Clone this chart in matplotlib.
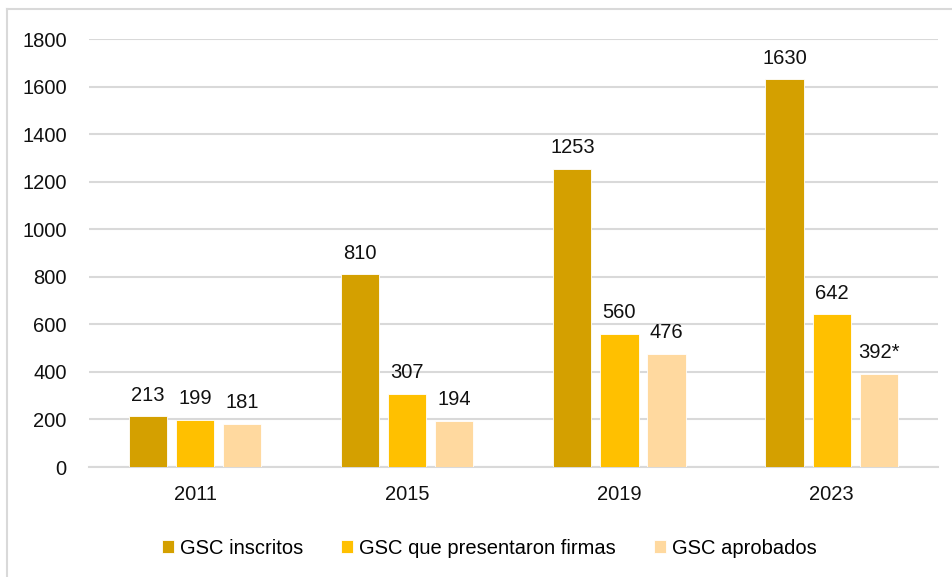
import numpy as np
import matplotlib.pyplot as plt
from matplotlib.lines import Line2D

plt.rcParams['font.family'] = ['Liberation Sans', 'DejaVu Sans']

years = ['2011', '2015', '2019', '2023']
inscritos = [213, 810, 1253, 1630]
firmas = [199, 307, 560, 642]
aprobados = [181, 194, 476, 392]
aprobados_labels = ['181', '194', '476', '392*']

series = [
    ('GSC inscritos', inscritos, '#D4A000', [str(v) for v in inscritos]),
    ('GSC que presentaron firmas', firmas, '#FFC000', [str(v) for v in firmas]),
    ('GSC aprobados', aprobados, '#FFD99F', aprobados_labels),
]

fs = 14.5

fig = plt.figure(figsize=(9.52, 5.77), dpi=100)
ax = fig.add_axes([0.0935, 0.1906, 0.8915, 0.7418])

x = np.arange(len(years))
width = 0.18
step = 0.222
for i, (name, vals, color, labels) in enumerate(series):
    pos = x + (i - 1) * step
    bars = ax.bar(pos, vals, width, color=color, label=name, edgecolor='white', linewidth=0.6, zorder=3)
    for b, lab in zip(bars, labels):
        ax.annotate(lab, (b.get_x() + b.get_width() / 2, b.get_height()),
                    xytext=(0, 8.5), textcoords='offset points',
                    ha='center', va='bottom', fontsize=fs, color='#111111')

ax.set_xlim(-0.5, 3.5)
ax.set_ylim(0, 1800)
ax.set_yticks(range(0, 1801, 200))
ax.set_xticks(x)
ax.set_xticklabels(years)
ax.tick_params(axis='both', length=0, labelsize=fs, colors='#111111')
ax.tick_params(axis='y', pad=16)
ax.tick_params(axis='x', pad=13)
ax.grid(axis='y', color='#D9D9D9', linewidth=1.5, zorder=0)
for s in ['top', 'right', 'left']:
    ax.spines[s].set_visible(False)
ax.spines['bottom'].set_color('#D9D9D9')
ax.spines['bottom'].set_linewidth(1.5)

fig.legend(loc='center', bbox_to_anchor=(0.514, 0.05), ncol=3, frameon=False,
           fontsize=fs, handlelength=0.6, handleheight=0.6, handletextpad=0.3,
           columnspacing=1.9)

# outer chart border (left and top edges visible)
fig.add_artist(Line2D([7 / 952, 7 / 952], [0, 1 - 9 / 577], transform=fig.transFigure,
                      color='#D9D9D9', linewidth=1.5))
fig.add_artist(Line2D([7 / 952, 1], [1 - 9 / 577, 1 - 9 / 577], transform=fig.transFigure,
                      color='#D9D9D9', linewidth=1.5))

fig.savefig('out.png', dpi=100)
